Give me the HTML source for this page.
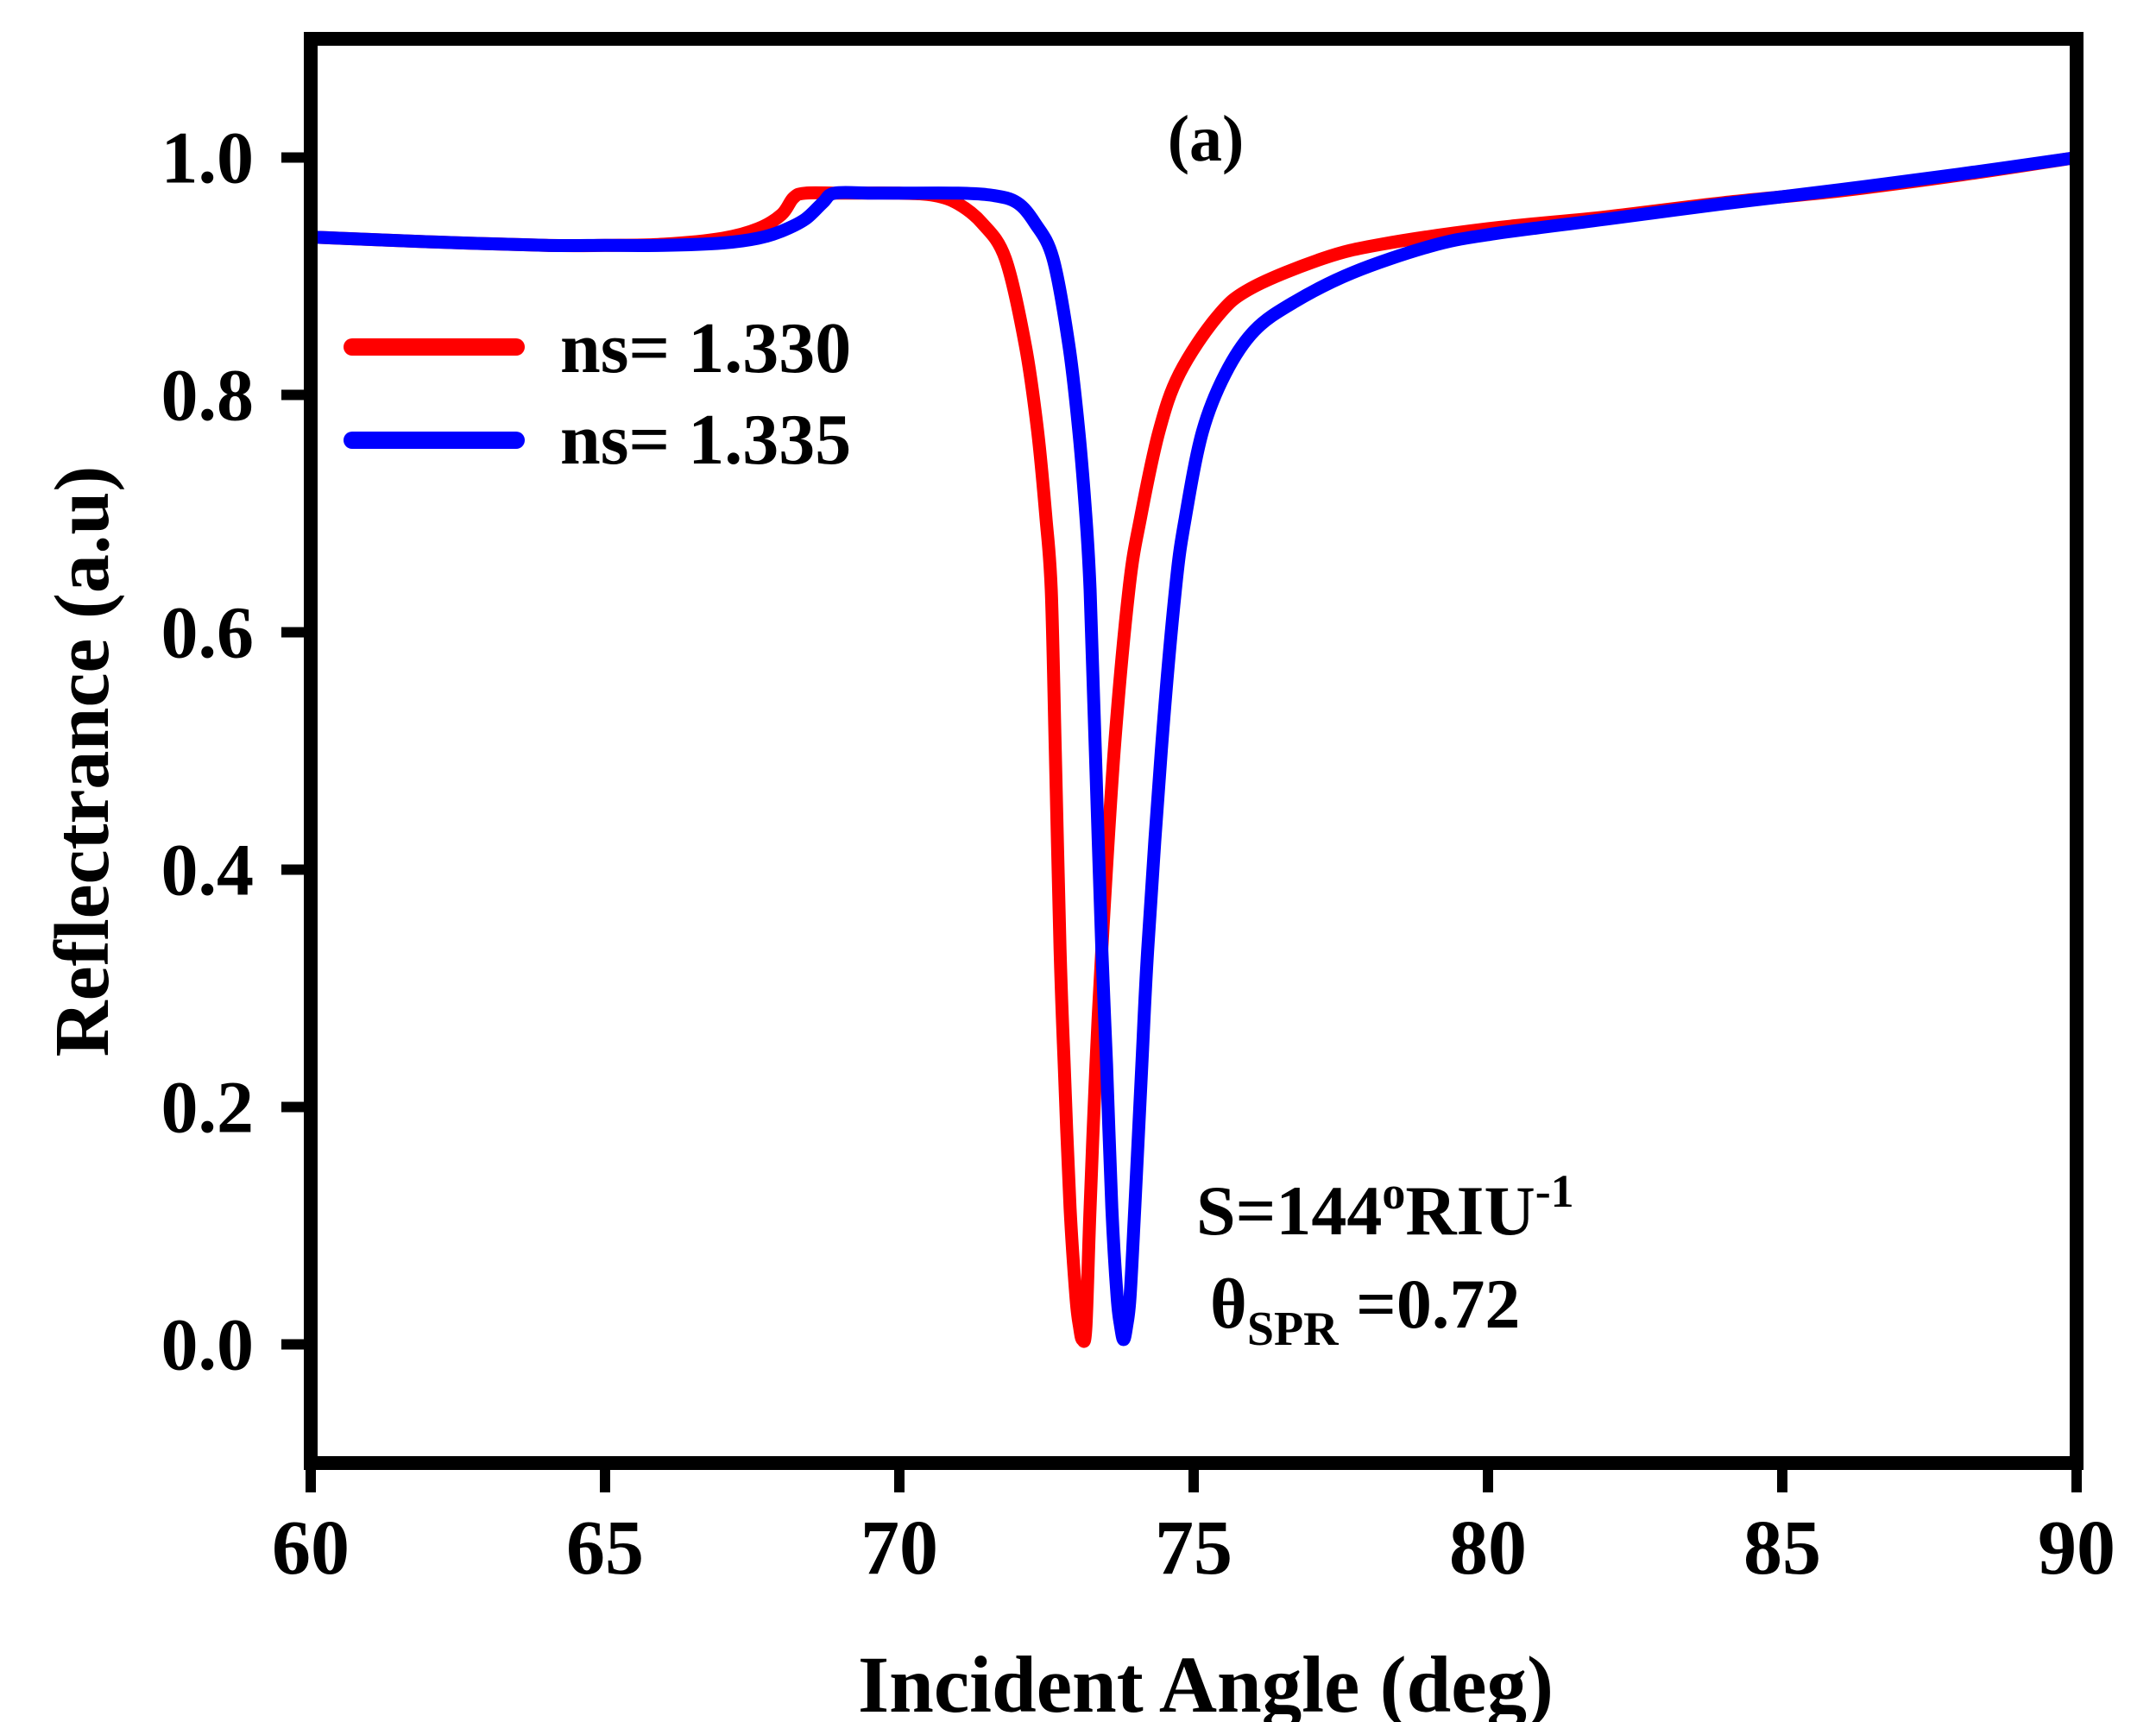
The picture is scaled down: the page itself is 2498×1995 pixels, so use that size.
<!DOCTYPE html>
<html><head><meta charset="utf-8">
<style>
html,body{margin:0;padding:0;background:#fff;}
svg{display:block;}
text{font-family:"Liberation Serif","DejaVu Serif",serif;font-weight:bold;fill:#000;}
</style></head>
<body>
<svg id="chart" width="2498" height="1995" viewBox="0 0 2498 1995" xmlns="http://www.w3.org/2000/svg">
<rect x="0" y="0" width="2498" height="1995" fill="#fff"/>
<g id="curves"></g>
<rect x="360" y="45" width="2046" height="1650" fill="none" stroke="#000" stroke-width="16"/>
<g id="axes"></g>
<text x="1397" y="186" font-size="76" text-anchor="middle">(a)</text>
<g>
<line x1="408" y1="402" x2="598" y2="402" stroke="#ff0000" stroke-width="20" stroke-linecap="round"/>
<text x="649" y="431" font-size="84">ns= 1.330</text>
<line x1="408" y1="510" x2="598" y2="510" stroke="#0000ff" stroke-width="20" stroke-linecap="round"/>
<text x="649" y="537" font-size="84">ns= 1.335</text>
</g>
<text x="1386" y="1430" font-size="82">S=144<tspan font-size="54" dy="-30">o</tspan><tspan dy="30">RIU</tspan><tspan font-size="54" dy="-32">-1</tspan></text>
<text x="1402" y="1538" font-size="82">θ<tspan font-size="56" dy="20">SPR</tspan><tspan dy="-20"> =0.72</tspan></text>
<text x="1397" y="1983" font-size="93" text-anchor="middle">Incident Angle (deg)</text>
<text transform="translate(125,882) rotate(-90)" font-size="90" text-anchor="middle">Reflectrance (a.u)</text>
</svg>
<script>
const xTicks = [60, 65, 70, 75, 80, 85, 90];
const yTicks = [0.0, 0.2, 0.4, 0.6, 0.8, 1.0];
const seriesNames = ["ns= 1.330", "ns= 1.335"];
const redX = [60,62,64,65,66,67,67.6,68.0,68.2,68.4,69,70,70.6,71.0,71.4,71.8,72.14,72.35,72.49,72.58,72.65,72.73,72.8,72.9,73.0,73.06,73.11,73.17,73.24,73.34,73.44,73.65,73.9,74.1,74.41,74.76,75.4,75.98,77.2,78.2,80,82,84,86,88,90];
const redY = [.933,.929,.926,.926,.927,.932,.940,.952,.966,.970,.970,.970,.968,.961,.945,.915,.842,.769,.697,.636,.5,.333,.236,.115,.04,.015,.004,.015,.115,.236,.333,.5,.636,.697,.769,.818,.866,.890,.915,.927,.940,.950,.962,.972,.985,1.0];
const blueX = [60,62,64,65,66,67,67.6,68.0,68.4,68.7,68.9,69.5,70,71,71.6,72.0,72.3,72.61,72.88,73.05,73.17,73.24,73.33,73.44,73.52,73.61,73.7,73.76,73.81,73.86,73.92,74.0,74.12,74.22,74.45,74.69,74.86,75.15,75.54,76.03,76.7,77.7,79,80,82,84,86,88,90];
const blueY = [.933,.929,.926,.926,.926,.928,.932,.938,.948,.962,.970,.970,.970,.970,.968,.962,.945,.915,.842,.769,.697,.636,.5,.333,.236,.115,.04,.015,.004,.015,.04,.115,.236,.333,.5,.636,.697,.769,.818,.854,.878,.903,.925,.935,.948,.961,.973,.986,1.0];

const NS = "http://www.w3.org/2000/svg";
const X0 = 360, X1 = 2406, Y0 = 1695, Y1 = 45;
const xMin = 60, xMax = 90, yMin = -0.1, yMax = 1.1;
function sx(v){ return X0 + (v - xMin) / (xMax - xMin) * (X1 - X0); }
function sy(v){ return Y0 - (v - yMin) / (yMax - yMin) * (Y0 - Y1); }

function smoothPath(pts){
  let d = 'M' + pts[0][0].toFixed(1) + ',' + pts[0][1].toFixed(1);
  for (let i = 0; i < pts.length - 1; i++){
    const p0 = pts[Math.max(0, i-1)], p1 = pts[i], p2 = pts[i+1], p3 = pts[Math.min(pts.length-1, i+2)];
    const t = 1/6;
    const c1x = p1[0] + (p2[0]-p0[0])*t, c1y = p1[1] + (p2[1]-p0[1])*t;
    const c2x = p2[0] - (p3[0]-p1[0])*t, c2y = p2[1] - (p3[1]-p1[1])*t;
    d += ' C' + c1x.toFixed(1) + ',' + c1y.toFixed(1) + ' ' + c2x.toFixed(1) + ',' + c2y.toFixed(1) + ' ' + p2[0].toFixed(1) + ',' + p2[1].toFixed(1);
  }
  return d;
}

const curves = document.getElementById('curves');
function drawSeries(xs, ys, color, name){
  const p = document.createElementNS(NS, 'path');
  p.setAttribute('d', smoothPath(xs.map((x,i)=>[sx(x), sy(ys[i])])));
  p.setAttribute('fill','none');
  p.setAttribute('stroke',color);
  p.setAttribute('stroke-width','15');
  p.setAttribute('stroke-linejoin','round');
  p.setAttribute('stroke-linecap','round');
  
  
  curves.appendChild(p);
}
drawSeries(redX, redY, '#ff0000', 'series-ns-1330');
drawSeries(blueX, blueY, '#0000ff', 'series-ns-1335');

const axes = document.getElementById('axes');
xTicks.forEach(v=>{
  const t = document.createElementNS(NS,'line');
  t.setAttribute('x1', sx(v)); t.setAttribute('x2', sx(v));
  t.setAttribute('y1', Y0); t.setAttribute('y2', Y0 + 34);
  t.setAttribute('stroke','#000'); t.setAttribute('stroke-width','12');
  
  
  axes.appendChild(t);
  const l = document.createElementNS(NS,'text');
  l.setAttribute('x', sx(v)); l.setAttribute('y', 1823);
  l.setAttribute('font-size','90'); l.setAttribute('text-anchor','middle');
  l.textContent = String(v);
  
  
  axes.appendChild(l);
});
yTicks.forEach(v=>{
  const t = document.createElementNS(NS,'line');
  t.setAttribute('x1', X0 - 34); t.setAttribute('x2', X0);
  t.setAttribute('y1', sy(v)); t.setAttribute('y2', sy(v));
  t.setAttribute('stroke','#000'); t.setAttribute('stroke-width','12');
  
  
  axes.appendChild(t);
  const l = document.createElementNS(NS,'text');
  l.setAttribute('x', 294); l.setAttribute('y', sy(v) + 29);
  l.setAttribute('font-size','86'); l.setAttribute('text-anchor','end');
  l.textContent = v.toFixed(1);
  
  
  axes.appendChild(l);
});
</script>
</body></html>
